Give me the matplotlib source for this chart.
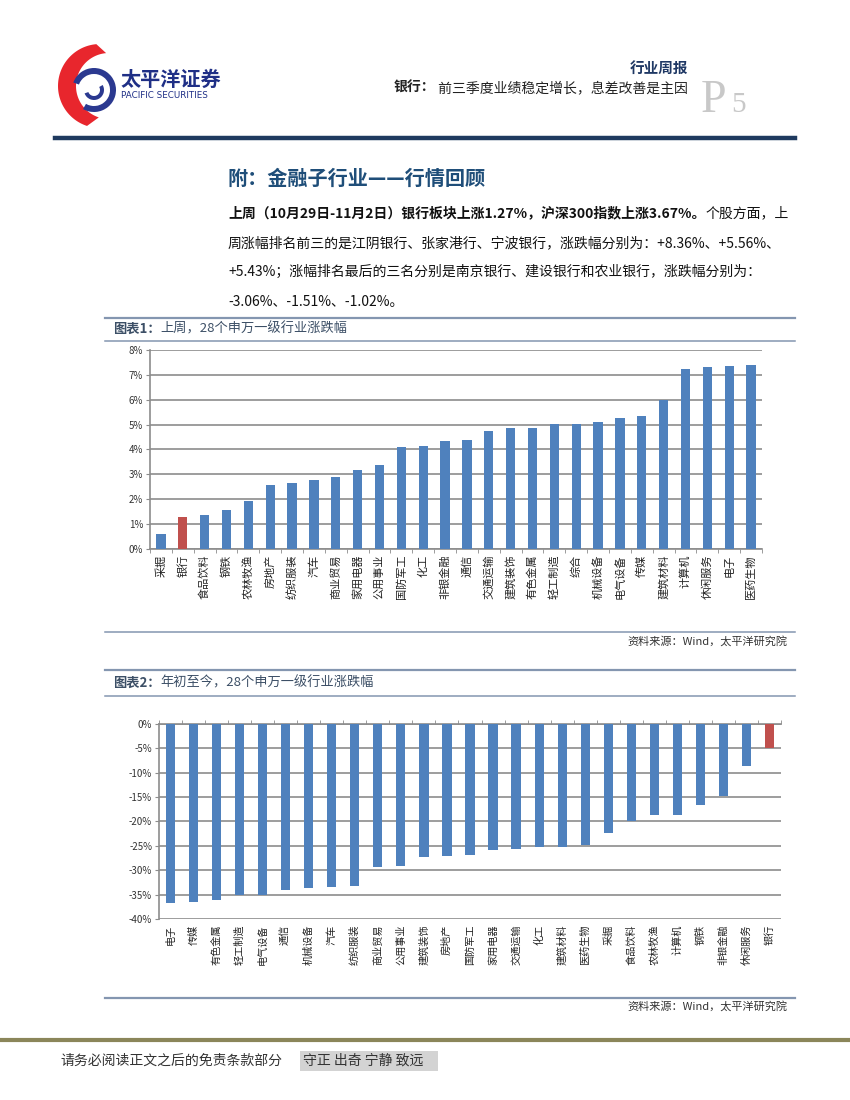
import numpy as np
import matplotlib
matplotlib.use("Agg")
import matplotlib.pyplot as plt
from matplotlib.patches import Polygon, Wedge, Rectangle
from matplotlib.lines import Line2D
import matplotlib.transforms as mtrans

plt.rcParams['font.family'] = ['Noto Sans CJK SC', 'DejaVu Sans']

# ---------------- data ----------------
cats1 = ['采掘', '银行', '食品饮料', '钢铁', '农林牧渔', '房地产', '纺织服装', '汽车',
         '商业贸易', '家用电器', '公用事业', '国防军工', '化工', '非银金融', '通信',
         '交通运输', '建筑装饰', '有色金属', '轻工制造', '综合', '机械设备', '电气设备',
         '传媒', '建筑材料', '计算机', '休闲服务', '电子', '医药生物']
vals1 = [0.62, 1.27, 1.38, 1.58, 1.94, 2.58, 2.66, 2.78, 2.88, 3.18, 3.38, 4.11, 4.15,
         4.35, 4.39, 4.75, 4.87, 4.87, 5.02, 5.01, 5.11, 5.27, 5.35, 6.01, 7.24, 7.32,
         7.36, 7.40]
yticks1 = [0, 1, 2, 3, 4, 5, 6, 7, 8]

cats2 = ['电子', '传媒', '有色金属', '轻工制造', '电气设备', '通信', '机械设备', '汽车',
         '纺织服装', '商业贸易', '公用事业', '建筑装饰', '房地产', '国防军工', '家用电器',
         '交通运输', '化工', '建筑材料', '医药生物', '采掘', '食品饮料', '农林牧渔',
         '计算机', '钢铁', '非银金融', '休闲服务', '银行']
vals2 = [-36.7, -36.5, -36.2, -35.1, -35.0, -34.0, -33.6, -33.4, -33.2, -29.3, -29.1,
         -27.2, -27.0, -26.8, -25.9, -25.6, -25.2, -25.2, -24.9, -22.3, -20.0, -18.8,
         -18.6, -16.6, -14.9, -8.6, -5.0]
yticks2 = [0, -5, -10, -15, -20, -25, -30, -35, -40]

highlight = '银行'

header_tag = '行业周报'
header_bold = '银行：'
header_title = ' 前三季度业绩稳定增长，息差改善是主因'
section_title = '附：金融子行业——行情回顾'
para_bold = '上周（10月29日-11月2日）银行板块上涨1.27%，沪深300指数上涨3.67%。'
para_lines = ['个股方面，上',
              '周涨幅排名前三的是江阴银行、张家港行、宁波银行，涨跌幅分别为：+8.36%、+5.56%、',
              '+5.43%；涨幅排名最后的三名分别是南京银行、建设银行和农业银行，涨跌幅分别为：',
              '-3.06%、-1.51%、-1.02%。']
cap1_a, cap1_b = '图表1：', '上周，28个申万一级行业涨跌幅'
cap2_a, cap2_b = '图表2：', '年初至今，28个申万一级行业涨跌幅'
source = '资料来源：Wind，太平洋研究院'
footer = '请务必阅读正文之后的免责条款部分'
motto = '守正 出奇 宁静 致远'

BLUE = '#4f81bd'
RED = '#c0504d'
GRID = '#8c8c8c'
W, H = 850, 1100

fig = plt.figure(figsize=(8.5, 11), dpi=100)
fig.patch.set_facecolor('white')

# overlay axes in pixel coordinates
ov = fig.add_axes([0, 0, 1, 1], zorder=0)
ov.set_xlim(0, W)
ov.set_ylim(H, 0)
ov.axis('off')

# ---------- logo ----------
cx, cy = 100, 86
t_out = np.linspace(np.radians(95), np.radians(252), 60)
t_in = np.linspace(np.radians(252), np.radians(95), 60)
outer = np.c_[cx + 42 * np.cos(t_out), cy - 42 * np.sin(t_out)]
inner = np.c_[cx + 9 + 33 * np.cos(t_in), cy - 33 * np.sin(t_in)]
ov.add_patch(Polygon(np.vstack([outer, inner]), closed=True, color='#e8262d', lw=0))
ov.add_patch(Wedge((94, 90), 22, 200, 120, width=6, color='#2b3990', lw=0))
ov.add_patch(Wedge((94, 90), 10, 330, 160, width=4, color='#2b3990', lw=0))
ov.text(120, 79, '太平洋证券', fontsize=14.5, fontweight='bold', color='#1f2f86',
        ha='left', va='center')
ov.text(121, 95, 'PACIFIC SECURITIES', fontsize=6.3, color='#1f2f86',
        ha='left', va='center', family='DejaVu Sans')

# ---------- header ----------
ov.text(688, 68, header_tag, fontsize=10.5, fontweight='bold', color='#1f3864',
        ha='right', va='center')
t_title = ov.text(688, 88, header_title, fontsize=10, color='#222222', ha='right', va='center')
fig.canvas.draw()
r = fig.canvas.get_renderer()
bb = t_title.get_window_extent(r)
ov.text(bb.x0, 88, header_bold, fontsize=10, fontweight='bold', color='#222222',
        ha='right', va='center',
        transform=mtrans.blended_transform_factory(mtrans.IdentityTransform(), ov.transData))
ov.text(701, 112, 'P', fontsize=33, color='#c8c8c8', family='Liberation Serif',
        ha='left', va='baseline')
ov.text(731, 112, '5', fontsize=21, color='#c8c8c8', family='Liberation Serif',
        ha='left', va='baseline')
ov.add_line(Line2D([55, 795], [138, 138], color='#1f3a5f', lw=3.2))

# ---------- section text ----------
ov.text(228, 178, section_title, fontsize=14.5, fontweight='bold', color='#1f4e79',
        ha='left', va='center')
tb = ov.text(228, 213, para_bold, fontsize=10, fontweight='bold', color='#111111',
             ha='left', va='center')
fig.canvas.draw()
bb = tb.get_window_extent(fig.canvas.get_renderer())
ov.text(bb.x1, 213, para_lines[0], fontsize=10, color='#111111',
        ha='left', va='center',
        transform=mtrans.blended_transform_factory(mtrans.IdentityTransform(), ov.transData))
for i, ln in enumerate(para_lines[1:]):
    ov.text(228, 243 + i * 29.3, ln, fontsize=10, color='#111111', ha='left', va='center')

# ---------- separators / captions ----------
SEP = '#8496b0'
for y, lw in [(318, 1.6), (341, 1.1), (632, 1.1), (670, 1.6), (696, 1.1), (998, 1.6)]:
    ov.add_line(Line2D([105, 795], [y, y], color=SEP, lw=lw))

for (a, b), y in [((cap1_a, cap1_b), 329), ((cap2_a, cap2_b), 683)]:
    ta = ov.text(113, y, a, fontsize=9.5, color='#3c4f66', ha='left', va='center',
                 fontweight='bold')
    fig.canvas.draw()
    bba = ta.get_window_extent(fig.canvas.get_renderer())
    ov.text(bba.x1, y, b, fontsize=9.5, color='#3c4f66', ha='left', va='center',
            transform=mtrans.blended_transform_factory(mtrans.IdentityTransform(), ov.transData))

ov.text(787, 641, source, fontsize=8, color='#333333', ha='right', va='center',
        style='italic')
ov.text(787, 1006, source, fontsize=8, color='#333333', ha='right', va='center',
        style='italic')

# ---------- footer ----------
ov.add_line(Line2D([0, 850], [1040, 1040], color='#8b865a', lw=3))
ov.text(60, 1061, footer, fontsize=10, color='#333333', ha='left', va='center')
ov.add_patch(Rectangle((300, 1051), 138, 20, color='#d3d3d3', lw=0))
ov.text(303, 1061, motto, fontsize=10, color='#333333', ha='left', va='center')


def style_axes(ax):
    ax.set_facecolor('none')
    for s in ['right', 'top', 'bottom', 'left']:
        ax.spines[s].set_visible(False)
    ax.spines['left'].set_visible(True)
    ax.spines['left'].set_color(GRID)
    ax.spines['left'].set_linewidth(1.2)
    ax.yaxis.grid(True, color=GRID, lw=1.2, zorder=0)
    ax.set_axisbelow(True)
    ax.tick_params(axis='y', length=3, color=GRID, labelsize=7, labelcolor='#333333', pad=2)
    ax.tick_params(axis='x', which='major', length=0, labelsize=8, labelcolor='#222222', pad=4)
    ax.tick_params(axis='x', which='minor', length=3, color=GRID)


# ---------- chart 1 ----------
ax1 = fig.add_axes([150 / W, 1 - 549 / H, 612 / W, 199 / H], zorder=2)
x1 = np.arange(len(cats1))
ax1.bar(x1, vals1, width=0.42, color=[RED if c == highlight else BLUE for c in cats1],
        zorder=3)
ax1.set_xlim(-0.5, len(cats1) - 0.5)
ax1.set_ylim(0, 8)
ax1.set_yticks(yticks1)
ax1.set_yticklabels([f'{v}%' for v in yticks1])
style_axes(ax1)
ax1.spines['bottom'].set_visible(True)
ax1.spines['bottom'].set_color(GRID)
ax1.spines['bottom'].set_linewidth(1.2)
ax1.set_xticks(x1)
ax1.set_xticklabels(cats1, rotation=90, va='top', ha='center')
ax1.set_xticks(np.arange(-0.5, len(cats1)), minor=True)

# ---------- chart 2 ----------
ax2 = fig.add_axes([159 / W, 1 - 919 / H, 622 / W, 195.3 / H], zorder=2)
x2 = np.arange(len(cats2))
ax2.bar(x2, vals2, width=0.4, color=[RED if c == highlight else BLUE for c in cats2],
        zorder=3)
ax2.set_xlim(-0.5, len(cats2) - 0.5)
ax2.set_ylim(-40, 0)
ax2.set_yticks(yticks2)
ax2.set_yticklabels([f'{v}%' for v in yticks2])
style_axes(ax2)
ax2.spines['top'].set_visible(True)
ax2.spines['top'].set_color(GRID)
ax2.spines['top'].set_linewidth(1.2)
ax2.set_xticks(x2)
ax2.set_xticklabels(cats2, rotation=90, va='top', ha='center', fontsize=7.3)
ax2.set_xticks(np.arange(-0.5, len(cats2)), minor=True)
ax2.tick_params(axis='x', which='minor', top=True, bottom=False)

fig.savefig('out.png', dpi=100, facecolor='white')
